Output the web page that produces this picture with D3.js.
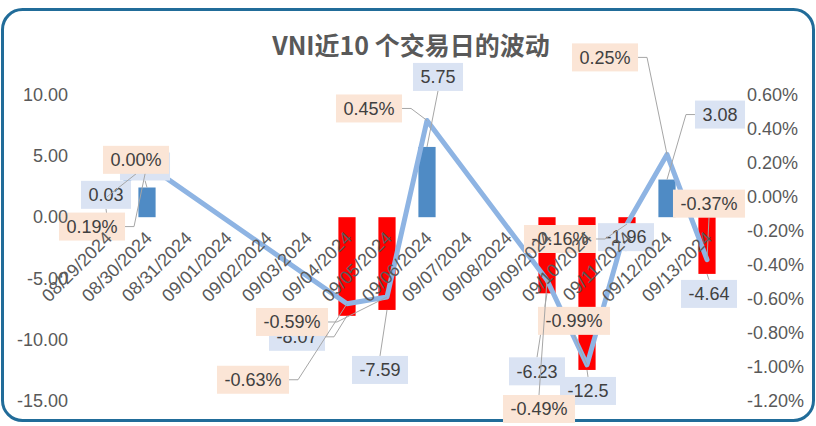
<!DOCTYPE html>
<meta charset="utf-8">
<style>
    body { margin: 0; background: #fff; }
    text { font-family: "Liberation Sans", Arial, sans-serif; }
    .axis text { fill: #595959; font-size: 18px; }
    .axis path, .axis line { display: none; }
    .title { font-family: "Noto Sans CJK SC", sans-serif; font-weight: bold; font-size: 25px; fill: #595959; }
    .lbl text { font-size: 18px; fill: #404040; }
    .leader { fill: none; stroke: #a6a6a6; stroke-width: 1; }
</style>
<svg width="816" height="426"></svg>
<script src="https://d3js.org/d3.v7.min.js"></script>
<script>

// all days on the date axis
var dates = ["08/29/2024", "08/30/2024", "08/31/2024", "09/01/2024", "09/02/2024", "09/03/2024",
             "09/04/2024", "09/05/2024", "09/06/2024", "09/07/2024", "09/08/2024", "09/09/2024",
             "09/10/2024", "09/11/2024", "09/12/2024", "09/13/2024"];

// the 10 trading days
var tradeDates = ["08/29/2024", "08/30/2024", "09/04/2024", "09/05/2024", "09/06/2024",
                  "09/09/2024", "09/10/2024", "09/11/2024", "09/12/2024", "09/13/2024"];
var pointChange = [0.03, 2.43, -8.07, -7.59, 5.75, -6.23, -12.5, -1.96, 3.08, -4.64];
var pctChange = [0.00, 0.19, -0.63, -0.59, 0.45, -0.49, -0.99, -0.16, 0.25, -0.37];

var leftTicks = [10, 5, 0, -5, -10, -15];
var rightTicks = [0.6, 0.4, 0.2, 0, -0.2, -0.4, -0.6, -0.8, -1.0, -1.2];

// where the data labels were dragged to (px from their point)
var barLabelOffsets = [[-1, -22], [-2, -21], [-50, 21], [-7, 60], [11, -70],
                       [-10, 78], [1, 21], [-1, -4], [53, -65], [2, 20]];
var pctLabelOffsets = [[29, -37], [-55, 62], [-94, 76], [-95, 25], [-58, -12],
                       [-8, 129], [-13, -44], [-67, 15], [-62, -97], [2, -56]];

var svg = d3.select("svg");

// chart border
svg.append("rect")
    .attr("x", 2.5).attr("y", 9.5)
    .attr("width", 811).attr("height", 411)
    .attr("rx", 20)
    .attr("fill", "#fff")
    .attr("stroke", "#216c99")
    .attr("stroke-width", 3);

svg.append("text")
    .attr("class", "title")
    .attr("x", 411)
    .attr("y", 55)
    .attr("text-anchor", "middle")
    .text("VNI近10 个交易日的波动");

var x = d3.scaleBand().domain(dates).range([87, 727]).padding(0),
    yL = d3.scaleLinear().domain([-15, 10]).range([400.5, 95]),
    yR = d3.scaleLinear().domain([-1.2, 0.6]).range([400.5, 95]);

var bw = x.bandwidth() * 0.43;
var cx = function(d) { return x(d) + x.bandwidth() / 2; };

var data = tradeDates.map(function(d, i) {
    return {date: d, pts: pointChange[i], pct: pctChange[i], i: i};
});

// bars
svg.append("g").selectAll("rect")
    .data(data)
    .enter().append("rect")
    .attr("x", function(d) { return cx(d.date) - bw / 2; })
    .attr("y", function(d) { return Math.min(yL(d.pts), yL(0)); })
    .attr("width", bw)
    .attr("height", function(d) { return Math.abs(yL(d.pts) - yL(0)); })
    .attr("fill", function(d) { return d.pts >= 0 ? "#4f8bc5" : "#ff0000"; });

// line
svg.append("path")
    .datum(data)
    .attr("fill", "none")
    .attr("stroke", "#8eb4e3")
    .attr("stroke-width", 5)
    .attr("stroke-linejoin", "round")
    .attr("stroke-linecap", "round")
    .attr("d", d3.line()
        .x(function(d) { return cx(d.date); })
        .y(function(d) { return yR(d.pct); }));

function drawLabels(items, fill) {
    var g = svg.append("g").attr("class", "lbl");
    items.forEach(function(it) {
        var lg = g.append("g");
        var t = lg.append("text")
            .attr("x", it.bx).attr("y", it.by)
            .attr("dy", "0.35em")
            .attr("text-anchor", "middle")
            .text(it.text);
        var w = t.node().getComputedTextLength() + 15, h = 28;
        // leader line from box to its point
        var pts;
        if (Math.abs(it.px - it.bx) > w / 2) {
            var sx = it.px > it.bx ? it.bx + w / 2 : it.bx - w / 2;
            var ex = it.px > it.bx ? sx + 9 : sx - 9;
            pts = [[sx, it.by], [ex, it.by], [it.px, it.py]];
        } else {
            var sy = it.py > it.by ? it.by + h / 2 : it.by - h / 2;
            pts = [[it.bx, sy], [it.px, it.py]];
        }
        lg.insert("path", "text")
            .attr("class", "leader")
            .attr("d", d3.line()(pts));
        lg.insert("rect", "text")
            .attr("x", it.bx - w / 2).attr("y", it.by - h / 2)
            .attr("width", w).attr("height", h)
            .attr("fill", fill);
    });
}

drawLabels(data.map(function(d) {
    var px = cx(d.date), py = yL(d.pts);
    return {text: String(d.pts), px: px, py: py,
            bx: px + barLabelOffsets[d.i][0], by: py + barLabelOffsets[d.i][1]};
}), "#dae3f3");

drawLabels(data.map(function(d) {
    var px = cx(d.date), py = yR(d.pct);
    return {text: d.pct.toFixed(2) + "%", px: px, py: py,
            bx: px + pctLabelOffsets[d.i][0], by: py + pctLabelOffsets[d.i][1]};
}).reverse(), "#fbe5d6");

// axes on top
svg.append("g")
    .attr("class", "axis")
    .attr("transform", "translate(68,0)")
    .call(d3.axisLeft(yL).tickValues(leftTicks).tickSize(0).tickPadding(0)
        .tickFormat(function(d) { return d.toFixed(2); }));

svg.append("g")
    .attr("class", "axis")
    .attr("transform", "translate(747,0)")
    .call(d3.axisRight(yR).tickValues(rightTicks).tickSize(0).tickPadding(0)
        .tickFormat(function(d) { return d.toFixed(2) + "%"; }));

svg.append("g")
    .attr("class", "axis")
    .attr("transform", "translate(0," + yL(0) + ")")
    .call(d3.axisBottom(x).tickSize(0))
    .selectAll("text")
    .attr("x", 0).attr("y", 0).attr("dy", 0)
    .attr("text-anchor", "end")
    .attr("transform", "translate(6,22) rotate(-45)");

</script>
